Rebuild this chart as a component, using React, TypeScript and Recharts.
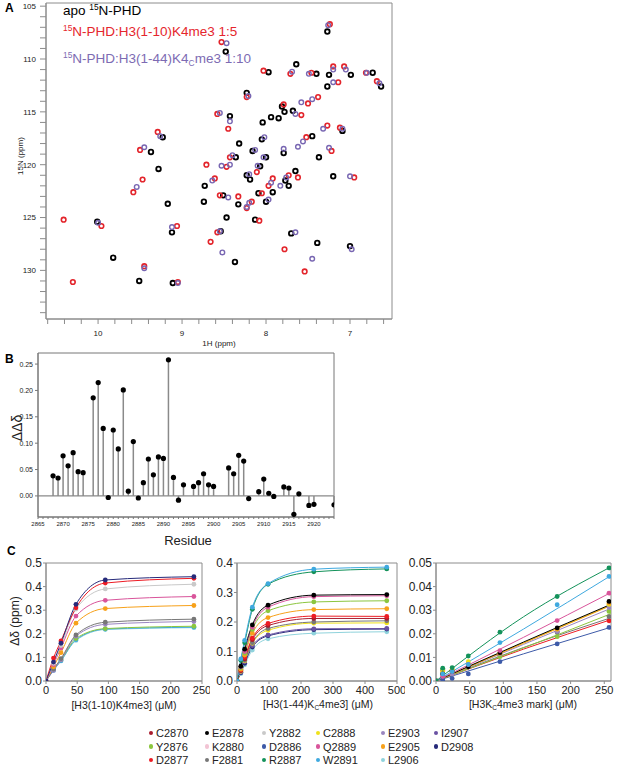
import React from 'react';
import {
  ScatterChart,
  Scatter,
  ComposedChart,
  Line,
  XAxis,
  YAxis,
  ReferenceArea,
  ReferenceLine,
} from 'recharts';

const FONT = 'Arial, "Liberation Sans", Helvetica, sans-serif';

// ---------- Panel A: HSQC peaks [1H ppm, 15N ppm] ----------
const apoPeaks: [number, number][] = [
  [8.48, 109.3], [7.97, 111.25], [7.64, 110.5], [7.4, 111.4], [7.25, 111.5], [6.99, 111.5],
  [6.73, 111.3], [6.63, 112.6], [7.27, 112.6], [7.27, 107.4], [8.23, 113.2], [7.81, 114.5],
  [7.78, 115.0], [7.68, 114.9], [7.94, 115.5], [7.85, 115.6], [8.04, 116.0], [8.43, 115.4],
  [9.23, 117.4], [9.37, 118.8], [9.28, 120.4], [8.32, 118.0], [8.05, 117.6], [8.16, 118.7],
  [7.79, 118.9], [8.36, 119.3], [8.0, 119.3], [8.07, 120.15], [7.45, 117.3], [7.09, 116.8],
  [7.37, 119.3], [7.2, 121.1], [8.23, 121.0], [8.19, 121.4], [7.92, 122.6], [7.65, 120.6],
  [7.77, 121.5], [7.73, 122.0], [8.73, 122.0], [8.74, 123.5], [9.17, 123.7], [8.51, 122.9],
  [8.33, 123.75], [8.09, 122.7], [8.0, 123.5], [8.47, 125.0], [8.13, 125.2], [10.01, 125.4],
  [9.82, 128.8], [9.51, 131.0], [9.11, 131.2], [9.12, 126.4], [8.54, 126.3], [8.37, 129.2],
  [7.7, 126.5], [7.39, 127.4], [7.0, 127.7],
];

const k4me3Peaks: [number, number][] = [
  [8.53, 108.4], [8.03, 111.1], [7.71, 111.4], [7.46, 111.3], [7.24, 106.7], [7.2, 110.7],
  [7.07, 110.7], [6.81, 111.3], [6.68, 112.1], [7.14, 112.2], [8.23, 113.6], [7.79, 114.3],
  [7.58, 115.3], [7.38, 113.6], [7.5, 114.2], [8.58, 115.2], [8.45, 116.6], [9.29, 116.9],
  [9.5, 118.6], [7.27, 116.3], [7.12, 116.5], [7.52, 117.4], [7.22, 118.7], [6.95, 121.2],
  [8.43, 119.3], [8.71, 120.0], [8.47, 120.2], [8.11, 120.7], [7.92, 121.3], [7.97, 122.0],
  [7.73, 121.0], [7.62, 121.2], [8.61, 121.3], [9.47, 121.4], [9.58, 122.6], [8.33, 123.0],
  [8.05, 122.7], [8.17, 123.5], [8.23, 124.1], [8.08, 125.3], [10.41, 125.2], [9.96, 125.8],
  [10.3, 131.1], [9.45, 129.6], [9.05, 131.1], [9.06, 125.8], [8.66, 127.3], [8.58, 126.4],
  [7.54, 130.1], [7.78, 128.0], [8.55, 122.9],
];

const k4cme3Peaks: [number, number][] = [
  [8.47, 108.5], [7.26, 106.8], [7.69, 111.2], [7.49, 111.4], [7.2, 111.0], [7.05, 111.0],
  [6.8, 111.3], [6.65, 112.3], [7.2, 112.2], [8.21, 113.5], [7.45, 113.8], [7.58, 114.1],
  [7.65, 115.2], [8.55, 115.1], [8.43, 115.9], [9.26, 117.3], [9.45, 118.35], [8.02, 117.4],
  [8.13, 118.6], [7.79, 118.5], [8.4, 119.1], [8.03, 119.3], [8.1, 120.1], [8.43, 120.0],
  [7.32, 116.6], [7.09, 116.6], [7.56, 117.8], [7.62, 118.3], [7.25, 118.4], [7.0, 121.1],
  [8.2, 120.9], [7.94, 121.7], [7.76, 121.2], [7.83, 122.0], [8.64, 121.5], [9.54, 122.1],
  [8.45, 123.1], [8.2, 123.6], [7.97, 123.3], [8.23, 124.0], [10.0, 125.5], [9.12, 125.9],
  [8.55, 126.3], [8.52, 128.3], [9.45, 129.8], [9.05, 131.2], [7.65, 126.4], [6.98, 128.0],
  [7.45, 128.9], [8.53, 120.1],
];

const hTicks = [10.6, 10.4, 10.2, 10, 9.8, 9.6, 9.4, 9.2, 9, 8.8, 8.6, 8.4, 8.2, 8, 7.8, 7.6, 7.4, 7.2, 7, 6.8, 6.6];
const nTicks = [105, 106, 107, 108, 109, 110, 111, 112, 113, 114, 115, 116, 117, 118, 119, 120, 121, 122, 123, 124, 125, 126, 127, 128, 129, 130, 131, 132, 133, 134];

// ---------- Panel B: ΔΔδ per residue ----------
const residueNums = [
  2868, 2869, 2870, 2871, 2872, 2873, 2874, 2876, 2877, 2878, 2879, 2880, 2881, 2882, 2883, 2884,
  2885, 2886, 2887, 2888, 2889, 2890, 2891, 2892, 2893, 2894, 2896, 2897, 2898, 2899, 2900, 2903,
  2904, 2905, 2906, 2907, 2909, 2910, 2911, 2912, 2914, 2915, 2916, 2917, 2919, 2920, 2924,
];
const ddDelta = [
  0.038, 0.034, 0.076, 0.057, 0.082, 0.046, 0.044, 0.186, 0.215, 0.128, -0.003, 0.125, 0.089, 0.201, 0.009, 0.103,
  -0.004, 0.025, 0.07, 0.04, 0.074, 0.071, 0.258, 0.035, -0.008, 0.021, 0.018, 0.025, 0.042, 0.021, 0.018, 0.053,
  0.042, 0.077, 0.066, -0.005, 0.008, 0.032, 0.005, -0.001, 0.017, 0.015, -0.035, 0.004, -0.018, -0.016, -0.017,
];
const ddTicks = [0, 0.05, 0.1, 0.15, 0.2, 0.25];
const resTicks = Array.from({ length: 60 }, (_, i) => 2865 + i);

// ---------- Panel C: titrations ----------
const residueNames = ['C2870', 'Y2876', 'D2877', 'E2878', 'K2880', 'F2881', 'Y2882', 'D2886', 'R2887', 'C2888', 'Q2889', 'W2891', 'E2903', 'E2905', 'L2906', 'I2907', 'D2908'];
const residueColors = ['#a81c2e', '#8cc63f', '#ed1c24', '#000000', '#f2c4d4', '#777777', '#c9c9c9', '#3d5aa8', '#13925a', '#efe21a', '#d9559b', '#3fa9df', '#9a86c0', '#f7a11a', '#8fd3dc', '#6a52a3', '#262a7a'];
const colorOf = (n: string) => residueColors[residueNames.indexOf(n)];

const conc1to10 = [0, 12, 24, 48, 95, 237];
const shifts1to10: [string, number[]][] = [
  ['L2906', [0, 0.048, 0.088, 0.172, 0.218, 0.226]],
  ['W2891', [0, 0.045, 0.085, 0.175, 0.22, 0.228]],
  ['Y2876', [0, 0.05, 0.09, 0.18, 0.222, 0.232]],
  ['E2903', [0, 0.045, 0.09, 0.19, 0.24, 0.252]],
  ['F2881', [0, 0.05, 0.095, 0.195, 0.249, 0.262]],
  ['E2905', [0, 0.06, 0.12, 0.245, 0.307, 0.32]],
  ['Q2889', [0, 0.07, 0.14, 0.275, 0.342, 0.358]],
  ['Y2882', [0, 0.075, 0.15, 0.305, 0.39, 0.41]],
  ['D2877', [0, 0.097, 0.17, 0.31, 0.415, 0.435]],
  ['D2908', [0, 0.08, 0.16, 0.325, 0.428, 0.442]],
];

const conc1to44 = [0, 12, 24, 48, 97, 240, 468];
const shifts1to44: [string, number[]][] = [
  ['L2906', [0, 0.025, 0.055, 0.105, 0.143, 0.162, 0.167]],
  ['D2908', [0, 0.028, 0.06, 0.115, 0.153, 0.174, 0.176]],
  ['I2907', [0, 0.03, 0.065, 0.12, 0.156, 0.177, 0.178]],
  ['C2888', [0, 0.033, 0.068, 0.128, 0.172, 0.196, 0.197]],
  ['F2881', [0, 0.035, 0.07, 0.13, 0.178, 0.2, 0.204]],
  ['C2870', [0, 0.035, 0.075, 0.14, 0.188, 0.212, 0.212]],
  ['D2877', [0, 0.038, 0.08, 0.145, 0.195, 0.22, 0.219]],
  ['E2905', [0, 0.04, 0.088, 0.162, 0.215, 0.242, 0.245]],
  ['Y2876', [0, 0.045, 0.095, 0.175, 0.238, 0.268, 0.272]],
  ['Q2889', [0, 0.048, 0.1, 0.182, 0.25, 0.286, 0.289]],
  ['E2878', [0, 0.05, 0.108, 0.19, 0.257, 0.291, 0.293]],
  ['R2887', [0, 0.07, 0.13, 0.243, 0.328, 0.37, 0.38]],
  ['W2891', [0, 0.075, 0.138, 0.25, 0.33, 0.379, 0.386]],
];

const concMark = [0, 10, 24, 48, 95, 180, 257];
const shiftsMark: [string, number[]][] = [
  ['D2886', [0, 0.0004, 0.0011, 0.003, 0.0082, 0.0157, 0.0227]],
  ['D2877', [0, 0.0044, 0.0045, 0.006, 0.011, 0.021, 0.0255]],
  ['F2881', [0, 0.003, 0.004, 0.006, 0.011, 0.0205, 0.0273]],
  ['Y2876', [0, 0.005, 0.0047, 0.0068, 0.0103, 0.0188, 0.0295]],
  ['E2903', [0, 0.002, 0.003, 0.006, 0.0115, 0.021, 0.0312]],
  ['C2888', [0, 0.004, 0.005, 0.0082, 0.012, 0.022, 0.0325]],
  ['E2905', [0, 0.003, 0.004, 0.007, 0.0118, 0.022, 0.033]],
  ['E2878', [0, 0.003, 0.004, 0.006, 0.012, 0.0225, 0.0337]],
  ['Q2889', [0, 0.002, 0.004, 0.007, 0.0129, 0.0256, 0.0372]],
  ['W2891', [0, 0.003, 0.004, 0.007, 0.0163, 0.0323, 0.0443]],
  ['R2887', [0, 0.0054, 0.0057, 0.0106, 0.0207, 0.0358, 0.0479]],
];
const fitConcMark = [0, 130, 260];
const fitsMark: [string, number[]][] = [
  ['D2886', [0, 0.0115, 0.0228]],
  ['D2877', [0, 0.0135, 0.026]],
  ['F2881', [0, 0.0142, 0.0268]],
  ['Y2876', [0, 0.014, 0.0285]],
  ['E2903', [0, 0.0155, 0.0308]],
  ['C2888', [0, 0.0162, 0.0322]],
  ['E2905', [0, 0.016, 0.032]],
  ['E2878', [0, 0.0165, 0.0325]],
  ['Q2889', [0, 0.0185, 0.0375]],
  ['W2891', [0, 0.022, 0.0447]],
  ['R2887', [0, 0.0272, 0.0484]],
];

const AXIS = '#8c8c8c';
const TXT = '#222';

const toRows = (conc: number[], series: [string, number[]][]) =>
  conc.map((c, i) => {
    const row: Record<string, number> = { c };
    series.forEach(([n, v]) => (row[n] = v[i]));
    return row;
  });

const ring = (color: string, w: number) => (p: any) => (
  <circle cx={p.cx} cy={p.cy} r={2.3} fill="none" stroke={color} strokeWidth={w} />
);

const Txt: React.FC<{ x: number; y: number; size: number; color?: string; bold?: boolean; center?: boolean; rotate?: boolean; children: React.ReactNode }> = ({ x, y, size, color = TXT, bold, center, rotate, children }) => (
  <div
    style={{
      position: 'absolute',
      left: x,
      top: y,
      fontSize: size,
      lineHeight: 1,
      color,
      fontWeight: bold ? 'bold' : 'normal',
      whiteSpace: 'nowrap',
      transform: rotate ? 'translate(-50%, -50%) rotate(-90deg)' : center ? 'translate(-50%, -50%)' : undefined,
    }}
  >
    {children}
  </div>
);

const Sup = ({ t }: { t: string }) => <span style={{ fontSize: '0.62em', position: 'relative', top: '-0.6em' }}>{t}</span>;
const Sub = ({ t }: { t: string }) => <span style={{ fontSize: '0.62em', position: 'relative', top: '0.35em' }}>{t}</span>;

const TitrationChart: React.FC<{
  conc: number[];
  series: [string, number[]][];
  xMax: number;
  xTicks: number[];
  yMax: number;
  yTicks: number[];
  digits: number;
  yWidth: number;
  width: number;
  margin: { top: number; right: number; bottom: number; left: number };
}> = ({ conc, series, xMax, xTicks, yMax, yTicks, digits, yWidth, width, margin }) => (
  <ComposedChart width={width} height={145} data={toRows(conc, series)} margin={margin}>
    <ReferenceArea x1={0} x2={xMax} y1={0} y2={yMax} fill="none" fillOpacity={0} stroke={AXIS} />
    <XAxis type="number" dataKey="c" domain={[0, xMax]} ticks={xTicks} interval={0} allowDataOverflow height={16}
      stroke={AXIS} tickSize={3} tickMargin={2} tick={{ fontSize: 11, fill: TXT }} />
    <YAxis type="number" domain={[0, yMax]} ticks={yTicks} interval={0} allowDataOverflow width={yWidth}
      stroke={AXIS} tickSize={3} tickMargin={1} tick={{ fontSize: 12, fill: TXT }} tickFormatter={(v: number) => v.toFixed(digits)} />
    {series.map(([n]) => (
      <Line key={n} type="monotone" dataKey={n} stroke={colorOf(n)} strokeWidth={1}
        dot={{ r: 2.4, fill: colorOf(n), stroke: colorOf(n), strokeWidth: 0 }} activeDot={false} isAnimationActive={false} />
    ))}
  </ComposedChart>
);

export default function App() {
  const stemData = residueNums.map((res, i) => ({ res, dd: ddDelta[i] }));
  const toPts = (list: [number, number][]) => list.map(([h, n]) => ({ h, n }));

  return (
    <div style={{ position: 'absolute', left: 0, top: 0, width: 617, height: 773, background: '#fff', fontFamily: FONT }}>
      {/* ---------- A ---------- */}
      <div style={{ position: 'absolute', left: 0, top: 0 }}>
        <ScatterChart width={400} height={350} margin={{ top: 3, right: 8, bottom: 1, left: 16 }}>
          <ReferenceArea x1={6.5} x2={10.62} y1={104.7} y2={134.6} fill="none" fillOpacity={0} stroke={AXIS} />
          <XAxis type="number" dataKey="h" domain={[6.5, 10.62]} reversed allowDataOverflow ticks={hTicks} interval={0}
            tickFormatter={(v: number) => (Number.isInteger(v) ? String(v) : '')} height={30}
            stroke={AXIS} tickSize={5} tickMargin={6} tick={{ fontSize: 8, fill: TXT }} />
          <YAxis type="number" dataKey="n" domain={[104.7, 134.6]} reversed allowDataOverflow ticks={nTicks} interval={0}
            tickFormatter={(v: number) => (v % 5 === 0 ? String(v) : '')} width={30}
            stroke={AXIS} tickSize={6} tickMargin={4} tick={{ fontSize: 8, fill: TXT }} />
          <Scatter data={toPts(apoPeaks)} shape={ring('#000000', 1.8)} isAnimationActive={false} />
          <Scatter data={toPts(k4me3Peaks)} shape={ring('#e3242b', 1.6)} isAnimationActive={false} />
          <Scatter data={toPts(k4cme3Peaks)} shape={ring('#7866b2', 1.4)} isAnimationActive={false} />
        </ScatterChart>
      </div>
      <Txt x={5} y={2} size={12} bold color="#000">A</Txt>
      <Txt x={63} y={4} size={13.5} color="#000">apo <Sup t="15" />N-PHD</Txt>
      <Txt x={63} y={25} size={13.5} color="#e5262d"><Sup t="15" />N-PHD:H3(1-10)K4me3 1:5</Txt>
      <Txt x={63} y={52} size={13.5} color="#7d6bb3"><Sup t="15" />N-PHD:H3(1-44)K4<Sub t="C" />me3 1:10</Txt>
      <Txt x={21} y={156} size={8} rotate>15N (ppm)</Txt>
      <Txt x={219} y={344} size={8} center>1H (ppm)</Txt>

      {/* ---------- B ---------- */}
      <div style={{ position: 'absolute', left: 0, top: 345 }}>
        <ComposedChart width={340} height={192} data={stemData} margin={{ top: 8, right: 6, bottom: 2, left: 12 }}>
          <ReferenceArea x1={2865} x2={2924} y1={-0.04} y2={0.271} fill="none" fillOpacity={0} stroke="#777" />
          <XAxis type="number" dataKey="res" domain={[2865, 2924]} allowDataOverflow ticks={resTicks} interval={0}
            tickFormatter={(v: number) => (v % 5 === 0 && v <= 2920 ? String(v) : '')} height={18}
            stroke="#777" tickSize={2} tickMargin={3} tick={{ fontSize: 6, fill: TXT }} />
          <YAxis type="number" domain={[-0.04, 0.271]} allowDataOverflow ticks={ddTicks} interval={0} width={26}
            tickFormatter={(v: number) => v.toFixed(2)}
            stroke="#777" tickSize={3} tickMargin={2} tick={{ fontSize: 7, fill: TXT }} />
          <ReferenceLine y={0} stroke="#8a8a8a" strokeWidth={1.2} />
          {stemData.map((d) => (
            <ReferenceLine key={d.res} segment={[{ x: d.res, y: 0 }, { x: d.res, y: d.dd }]} stroke="#8a8a8a" strokeWidth={1.5} />
          ))}
          <Scatter data={stemData} dataKey="dd" isAnimationActive={false}
            shape={(p: any) => <circle cx={p.cx} cy={p.cy} r={2.6} fill="#000" />} />
        </ComposedChart>
      </div>
      <Txt x={5} y={353} size={12} bold color="#000">B</Txt>
      <Txt x={17} y={428} size={14} rotate>ΔΔδ</Txt>
      <Txt x={188} y={540} size={13} center>Residue</Txt>

      {/* ---------- C ---------- */}
      <div style={{ position: 'absolute', left: 0, top: 555 }}>
        <TitrationChart conc={conc1to10} series={shifts1to10} xMax={250} xTicks={[0, 50, 100, 150, 200, 250]}
          yMax={0.5} yTicks={[0, 0.1, 0.2, 0.3, 0.4, 0.5]} digits={1} yWidth={32} width={210}
          margin={{ top: 8, right: 8, bottom: 3, left: 14 }} />
      </div>
      <div style={{ position: 'absolute', left: 195, top: 555 }}>
        <TitrationChart conc={conc1to44} series={shifts1to44} xMax={500} xTicks={[0, 100, 200, 300, 400, 500]}
          yMax={0.4} yTicks={[0, 0.1, 0.2, 0.3, 0.4]} digits={1} yWidth={32} width={210}
          margin={{ top: 8, right: 8, bottom: 3, left: 10 }} />
      </div>
      <div style={{ position: 'absolute', left: 395, top: 555 }}>
        <ComposedChart width={221} height={145} margin={{ top: 8, right: 5, bottom: 3, left: 3 }}>
          <ReferenceArea x1={0} x2={260} y1={0} y2={0.05} fill="none" fillOpacity={0} stroke={AXIS} />
          <XAxis type="number" dataKey="c" domain={[0, 260]} ticks={[0, 50, 100, 150, 200, 250]} interval={0} allowDataOverflow height={16}
            stroke={AXIS} tickSize={3} tickMargin={2} tick={{ fontSize: 11, fill: TXT }} />
          <YAxis type="number" domain={[0, 0.05]} ticks={[0, 0.01, 0.02, 0.03, 0.04, 0.05]} interval={0} allowDataOverflow width={38}
            stroke={AXIS} tickSize={3} tickMargin={1} tick={{ fontSize: 12, fill: TXT }} tickFormatter={(v: number) => v.toFixed(2)} />
          {fitsMark.map(([n, v]) => (
            <Line key={'f' + n} data={fitConcMark.map((c, i) => ({ c, v: v[i] }))} type="monotone" dataKey="v"
              stroke={colorOf(n)} strokeWidth={1} dot={false} activeDot={false} isAnimationActive={false} />
          ))}
          {shiftsMark.map(([n, v]) => (
            <Scatter key={'p' + n} data={concMark.map((c, i) => ({ c, v: v[i] }))} dataKey="v" isAnimationActive={false}
              shape={(p: any) => <circle cx={p.cx} cy={p.cy} r={2.4} fill={colorOf(n)} />} />
          ))}
        </ComposedChart>
      </div>
      <Txt x={7} y={545} size={12} bold color="#000">C</Txt>
      <Txt x={15} y={621} size={12} rotate>Δδ (ppm)</Txt>
      <Txt x={124} y={705} size={10.5} center>[H3(1-10)K4me3] (μM)</Txt>
      <Txt x={318} y={704} size={10.5} center>[H3(1-44)K<Sub t="C" />4me3] (μM)</Txt>
      <Txt x={523} y={704} size={10.5} center>[H3K<Sub t="C" />4me3 mark] (μM)</Txt>

      {/* legend */}
      {residueNames.map((n, i) => {
        const colX = [151, 207, 264, 318, 383, 436][Math.floor(i / 3)];
        const rowY = 733 + (i % 3) * 13.5;
        return (
          <div key={n} style={{ position: 'absolute', left: colX - 2.5, top: rowY - 6, height: 12, display: 'flex', alignItems: 'center', fontSize: 11, color: TXT, whiteSpace: 'nowrap' }}>
            <span style={{ display: 'inline-block', width: 4.5, height: 4.5, borderRadius: '50%', background: residueColors[i], marginRight: 3 }} />
            {n}
          </div>
        );
      })}
    </div>
  );
}
